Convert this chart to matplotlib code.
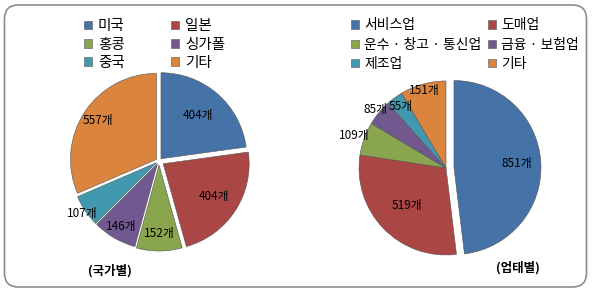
import numpy as np
import matplotlib.pyplot as plt
from matplotlib.patches import FancyBboxPatch

plt.rcParams['font.family'] = ['Noto Sans CJK KR', 'DejaVu Sans']

# data
country_labels = ["미국", "일본", "홍콩", "싱가폴", "중국", "기타"]
country_vals = [404, 404, 152, 146, 107, 557]
biz_labels = ["서비스업", "도매업", "운수 · 창고 · 통신업", "금융 · 보험업", "제조업", "기타"]
biz_vals = [851, 519, 109, 85, 55, 151]

colors = ["#4572A7", "#AA4643", "#89A54E", "#71588F", "#4198AF", "#DB843D"]

fig = plt.figure(figsize=(6.03, 2.93), dpi=100)
ax = fig.add_axes([0, 0, 1, 1])

# outer rounded box
box = FancyBboxPatch((4.5, 6), 582, 282, boxstyle="round,pad=0,rounding_size=14",
                     fc="white", ec="#8c8c8c", lw=1.2)
ax.add_patch(box)


def draw_pie(vals, center, r, explode, label_dist):
    # explode is in data units (pixels here)
    wedges, _ = ax.pie(vals, colors=colors, startangle=90, counterclock=False,
                       center=center, radius=r, explode=explode, frame=True,
                       wedgeprops=dict(lw=0.4, ec="#555555"),
                       shadow=dict(ox=1.0, oy=-1.5, shade=0.5, alpha=0.35))
    for w, v, d in zip(wedges, vals, label_dist):
        ang = np.deg2rad((w.theta1 + w.theta2) / 2)
        cx, cy = w.center
        ax.text(cx + d * r * np.cos(ang), cy + d * r * np.sin(ang), f"{v}개",
                ha="center", va="center", fontsize=8.5, color="black")
    return wedges


lw_left = draw_pie(country_vals, (159, 132), 86, [3, 5, 4, 3, 3, 3],
                   [0.66, 0.70, 0.80, 0.84, 1.05, 0.82])
lw_right = draw_pie(biz_vals, (446, 125), 87, [8, 0, 0, 0, 0, 0],
                    [0.72, 0.62, 1.12, 1.05, 0.88, 0.92])

ax.set_xlim(0, 603)
ax.set_ylim(0, 293)
ax.set_aspect("equal")
ax.axis("off")

# legend is filled row by row in the reference
order = [0, 2, 4, 1, 3, 5]
leg1 = ax.legend([lw_left[i] for i in order], [country_labels[i] for i in order],
                 ncol=2, loc="upper left",
                 bbox_to_anchor=(71 / 603, 1 - 6 / 293), frameon=False,
                 fontsize=10.5, handlelength=0.55, handleheight=0.55, handletextpad=0.4,
                 columnspacing=3.2, labelspacing=0.3)
ax.add_artist(leg1)
ax.legend([lw_right[i] for i in order], [biz_labels[i] for i in order],
          ncol=2, loc="upper left",
          bbox_to_anchor=(338 / 603, 1 - 6 / 293), frameon=False,
          fontsize=10, handlelength=0.58, handleheight=0.58, handletextpad=0.4,
          columnspacing=0.45, labelspacing=0.38)

ax.text(110, 293 - 271, "(국가별)", ha="center", va="center", fontsize=9, fontweight="bold")
ax.text(518, 293 - 268, "(업태별)", ha="center", va="center", fontsize=9, fontweight="bold")

fig.savefig("out.png", dpi=100)
